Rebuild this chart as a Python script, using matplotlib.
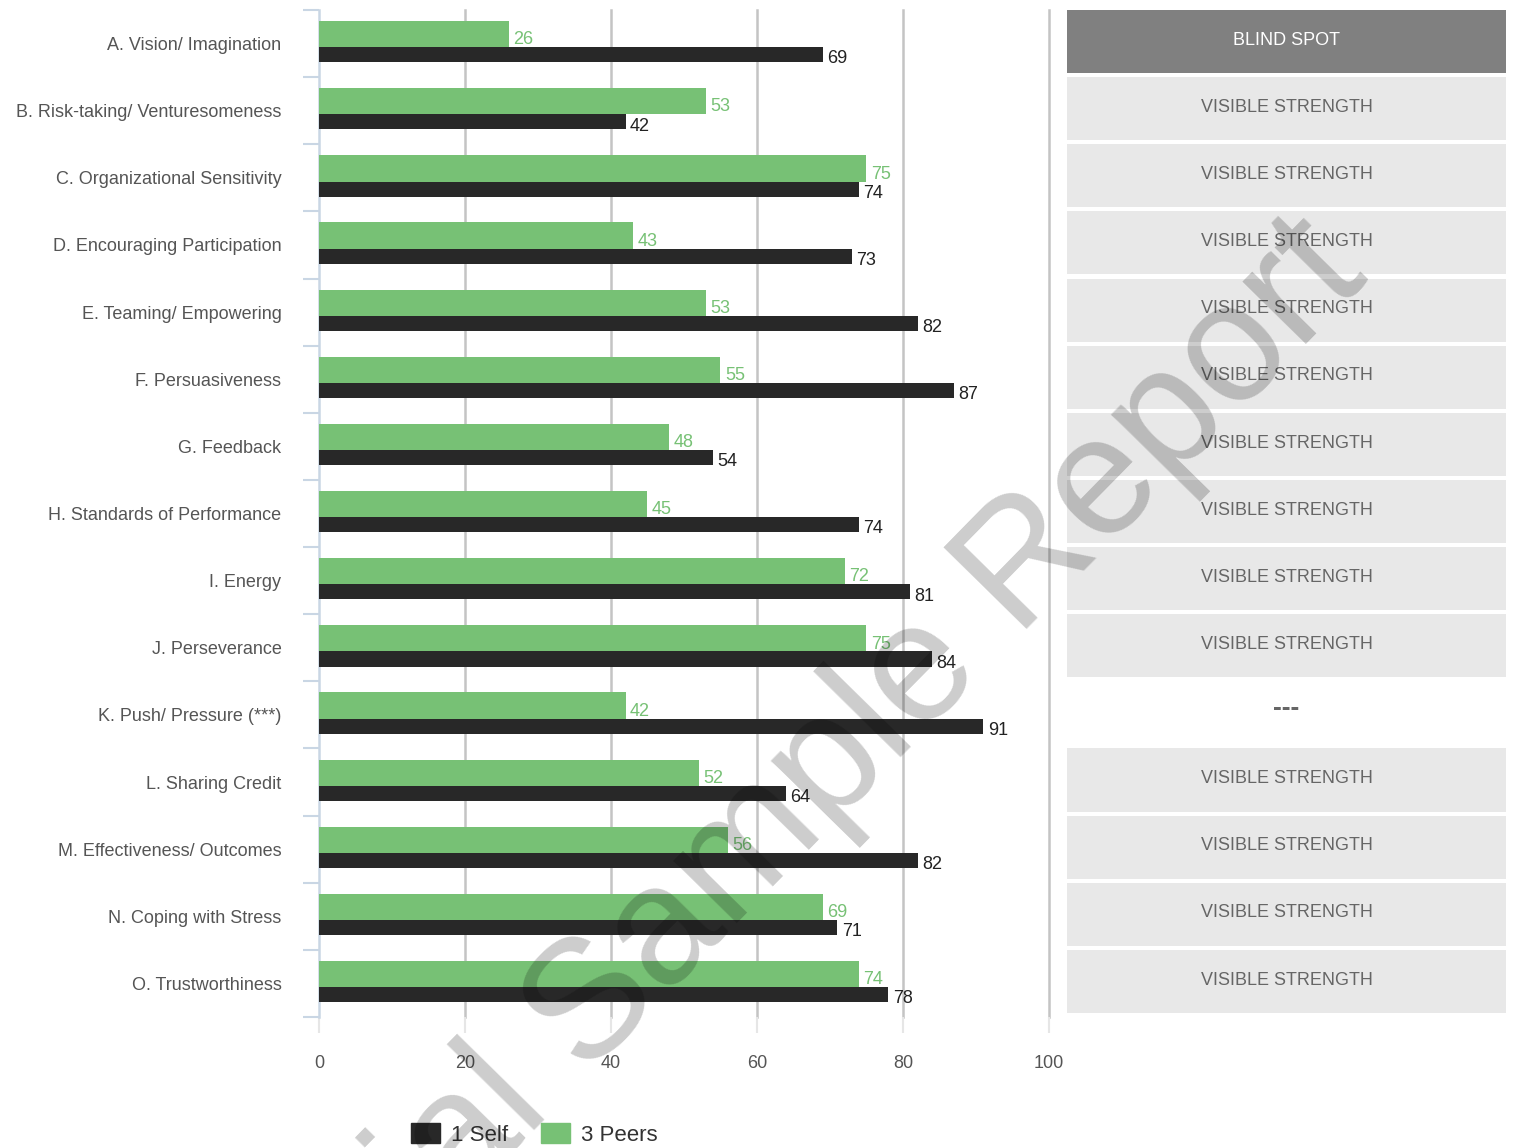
import matplotlib
matplotlib.use("Agg")
import matplotlib.pyplot as plt
from matplotlib.patches import Patch
import numpy as np

plt.rcParams['font.family'] = ['Liberation Sans', 'DejaVu Sans']

# scale names, self and peer scores, feedback category per row
categories = [
    "A. Vision/ Imagination",
    "B. Risk-taking/ Venturesomeness",
    "C. Organizational Sensitivity",
    "D. Encouraging Participation",
    "E. Teaming/ Empowering",
    "F. Persuasiveness",
    "G. Feedback",
    "H. Standards of Performance",
    "I. Energy",
    "J. Perseverance",
    "K. Push/ Pressure (***)",
    "L. Sharing Credit",
    "M. Effectiveness/ Outcomes",
    "N. Coping with Stress",
    "O. Trustworthiness",
]
self_scores = [69, 42, 74, 73, 82, 87, 54, 74, 81, 84, 91, 64, 82, 71, 78]
peer_scores = [26, 53, 75, 43, 53, 55, 48, 45, 72, 75, 42, 52, 56, 69, 74]
status = ["BLIND SPOT"] + ["VISIBLE STRENGTH"] * 9 + ["---"] + ["VISIBLE STRENGTH"] * 4
x_ticks = [0, 20, 40, 60, 80, 100]

GREEN = "#77c175"
BLACK = "#282828"
n = len(categories)
y = np.arange(n)

fig = plt.figure(figsize=(15.13, 11.48), dpi=100)
ax = fig.add_axes([0.2108, 0.1141, 0.4825, 0.8772])

# peers on top, self just below within each row
ax.barh(y - 0.14, peer_scores, height=0.39, color=GREEN, zorder=3)
ax.barh(y + 0.1675, self_scores, height=0.225, color=BLACK, zorder=3)

for i in range(n):
    ax.text(peer_scores[i] + 0.6, i - 0.055, str(peer_scores[i]), color=GREEN,
            fontsize=13, va='center', ha='left', zorder=4)
    ax.text(self_scores[i] + 0.6, i + 0.23, str(self_scores[i]), color="#222222",
            fontsize=13, va='center', ha='left', zorder=4)

ax.set_xlim(0, 100)
ax.set_ylim(n - 0.5, -0.5)
ax.set_xticks(x_ticks)
ax.set_xticklabels([str(t) for t in x_ticks])
ax.tick_params(axis='x', length=11.5, width=1.5, color="#e6e6e6", pad=16,
               labelsize=13, labelcolor="#555555")

ax.set_yticks(y)
ax.set_yticklabels(categories)
ax.tick_params(axis='y', which='major', length=0, pad=27, labelsize=13,
               labelcolor="#555555")
ax.set_yticks(np.arange(n + 1) - 0.5, minor=True)
ax.tick_params(axis='y', which='minor', length=11.5, width=1.5, color="#c9d6e4")

for t in x_ticks[1:]:
    ax.axvline(t, color="#c4c4c4", linewidth=1.8, zorder=1, clip_on=False)

for s in ['top', 'right', 'bottom']:
    ax.spines[s].set_visible(False)
ax.spines['left'].set_color("#c9d6e4")
ax.spines['left'].set_linewidth(1.8)

# status column
ax2 = fig.add_axes([0.7052, 0.1141, 0.2902, 0.8772])
ax2.set_xlim(0, 1)
ax2.set_ylim(n - 0.5, -0.5)
ax2.axis('off')
for i, label in enumerate(status):
    if label == "BLIND SPOT":
        face, tc = "#808080", "white"
    elif label == "---":
        face, tc = "white", "#666666"
    else:
        face, tc = "#e8e8e8", "#666666"
    ax2.barh(i - 0.03, 1, height=0.94, color=face)
    if label == "---":
        ax2.text(0.5, i - 0.1, label, ha='center', va='center', color=tc,
                 fontsize=19, fontweight='bold')
    else:
        ax2.text(0.5, i - 0.05, label, ha='center', va='center', color=tc, fontsize=13)

handles = [Patch(color=BLACK, label="1 Self"), Patch(color=GREEN, label="3 Peers")]
fig.legend(handles=handles, loc='center', bbox_to_anchor=(0.3533, 0.012), ncol=2,
           frameon=False, fontsize=16, handlelength=1.3, handleheight=1.0,
           columnspacing=1.5, handletextpad=0.5, labelcolor="#333333")

fig.text(0.561, 0.2953, "Trial Sample Report", rotation=45.5, fontsize=121,
         color="black", alpha=0.2, ha='center', va='baseline',
         rotation_mode='anchor', zorder=10)

fig.savefig("out.png", dpi=100)
